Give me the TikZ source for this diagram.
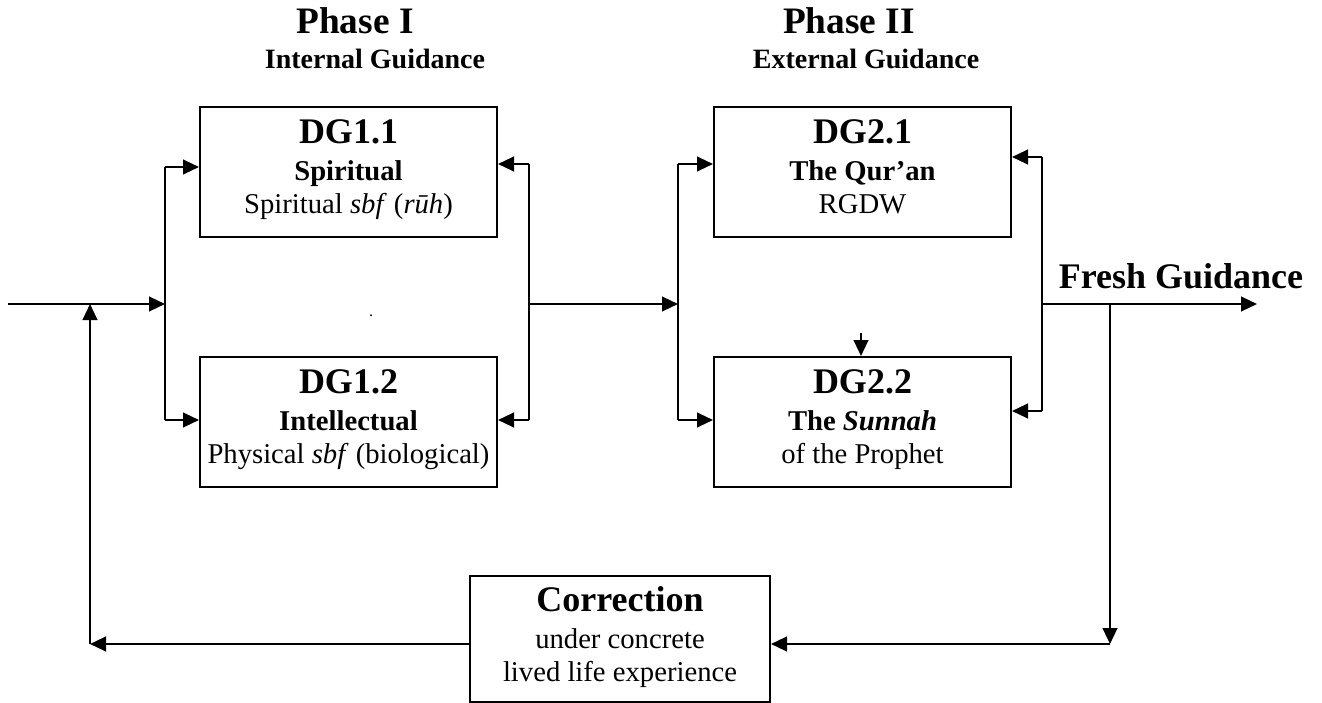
\documentclass[tikz,border=0pt]{standalone}
\usepackage{fontspec}
\setmainfont{Liberation Serif}
\usetikzlibrary{arrows.meta}
\tikzset{
  dgbox/.style={rectangle, draw, line width=1.5pt, minimum width=222.75pt, minimum height=97.5pt, inner sep=0pt, align=center, font=\fontsize{21.5}{24.75}\selectfont},
  corrbox/.style={dgbox, minimum width=225pt, minimum height=94.5pt},
  arrow/.style={-{Triangle[length=12pt, width=11pt]}, line width=1.7pt},
  bus/.style={line width=1.7pt},
  phase/.style={font=\fontsize{28}{28}\selectfont\bfseries, anchor=base},
  subphase/.style={font=\fontsize{21}{21}\selectfont\bfseries, anchor=base},
}
\newcommand{\dgtext}[3]{{\fontsize{27}{27}\selectfont\bfseries #1}\\[3pt]#2\\#3\strut}

\begin{document}
\begin{tikzpicture}[x=0.75pt, y=-0.75pt]
  \useasboundingbox (0,0) rectangle (1322,703);

  % phase headings
  \node[phase] (ph1) at (355,33) {Phase I};
  \node[subphase] (int) at (375,68) {Internal Guidance};
  \node[phase] (ph2) at (849,33) {Phase II};
  \node[subphase] (ext) at (866,68) {External Guidance};

  % guidance boxes
  \node[dgbox] (dg11) at (348.5,172) {\dgtext{DG1.1}{\textbf{Spiritual}}{Spiritual \textit{sbf} (\textit{rūh})}};
  \node[dgbox] (dg12) at (348.5,422) {\dgtext{DG1.2}{\textbf{Intellectual}}{Physical \textit{sbf} (biological)}};
  \node[dgbox] (dg21) at (862.5,172) {\dgtext{DG2.1}{\textbf{The Qur’an}}{RGDW}};
  \node[dgbox] (dg22) at (862.5,422) {\dgtext{DG2.2}{\textbf{The \textit{Sunnah}}}{of the Prophet}};
  \node[corrbox] (corr) at (620,639) {\dgtext{Correction}{under concrete}{lived life experience}};

  \node[font=\fontsize{27}{27}\selectfont\bfseries, anchor=base] (fresh) at (1181,288) {Fresh Guidance};
  \node[font=\fontsize{12}{12}\selectfont, anchor=base] (dot) at (371,316) {.};

  % junction points
  \coordinate (in) at (8,304);
  \coordinate (a0) at (165,304);
  \coordinate (a1) at (165,167);
  \coordinate (a2) at (165,420);
  \coordinate (b0) at (529,304);
  \coordinate (b1) at (529,164);
  \coordinate (b2) at (529,420);
  \coordinate (c0) at (678,304);
  \coordinate (c1) at (678,164);
  \coordinate (c2) at (678,420);
  \coordinate (d0) at (1042,304);
  \coordinate (d1) at (1042,157);
  \coordinate (d2) at (1042,411);
  \coordinate (out) at (1257,304);
  \coordinate (split) at (1110,304);
  \coordinate (down) at (1110,644);
  \coordinate (back) at (90,644);
  \coordinate (fb) at (90,304);
  \coordinate (top) at (861,333);

  % phase I
  \draw[arrow] (in) -- (a0);
  \draw[bus] (a1) -- (a2);
  \draw[arrow] (a1) -- (a1 -| dg11.west);
  \draw[arrow] (a2) -- (a2 -| dg12.west);
  \draw[bus] (b1) -- (b2);
  \draw[arrow] (b1) -- (b1 -| dg11.east);
  \draw[arrow] (b2) -- (b2 -| dg12.east);

  % phase II
  \draw[arrow] (b0) -- (c0);
  \draw[bus] (c1) -- (c2);
  \draw[arrow] (c1) -- (c1 -| dg21.west);
  \draw[arrow] (c2) -- (c2 -| dg22.west);
  \draw[bus] (d1) -- (d2);
  \draw[arrow] (d1) -- (d1 -| dg21.east);
  \draw[arrow] (d2) -- (d2 -| dg22.east);
  \draw[arrow] (top) -- (top |- dg22.north);

  % output and feedback
  \draw[arrow] (d0) -- (out);
  \draw[arrow] (split) -- (down);
  \draw[arrow] (down) -- (down -| corr.east);
  \draw[arrow] (down -| corr.west) -- (back);
  \draw[arrow] (back) -- (fb);
\end{tikzpicture}
\end{document}
